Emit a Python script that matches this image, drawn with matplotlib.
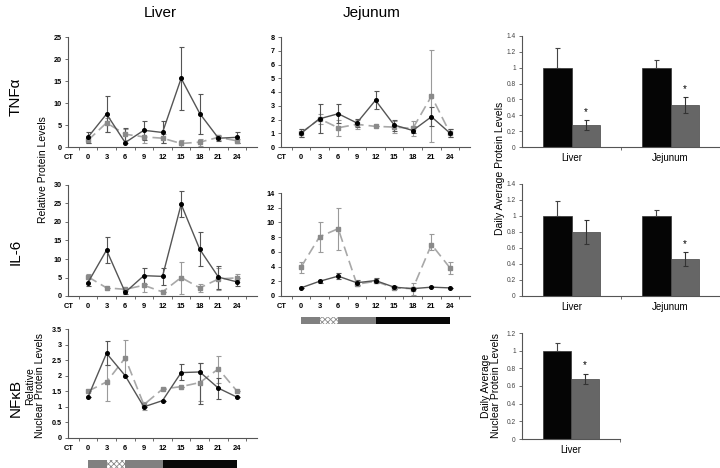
import matplotlib
matplotlib.use("Agg")
import matplotlib.pyplot as plt
import numpy as np

plt.rcParams['font.family'] = ['Liberation Sans', 'DejaVu Sans']
plt.rcParams['hatch.linewidth'] = 0.6

# Data
ct = [0, 3, 6, 9, 12, 15, 18, 21, 24]
ct_labels = ['CT', '0', '3', '6', '9', '12', '15', '18', '21', '24']

# TNFa liver
tnf_liv_solid = [2.2, 7.5, 1.0, 3.8, 3.3, 15.6, 7.6, 2.0, 2.2]
tnf_liv_solid_hi = [3.4, 11.5, 4.3, 6.0, 5.8, 22.8, 12.0, 2.6, 3.4]
tnf_liv_solid_lo = [1.0, 3.5, 0.8, 1.5, 0.8, 8.3, 2.9, 1.4, 1.0]
tnf_liv_dash = [1.5, 5.5, 2.9, 2.3, 2.0, 0.8, 1.1, 2.2, 1.4]
tnf_liv_dash_hi = [2.2, 6.5, 4.2, 3.8, 3.0, 1.6, 1.9, 2.7, 1.9]
tnf_liv_dash_lo = [0.8, 3.5, 1.6, 0.8, 1.0, 0.0, 0.3, 1.7, 0.9]

# TNFa jejunum
tnf_jej_solid = [1.0, 2.05, 2.42, 1.75, 3.4, 1.6, 1.2, 2.2, 1.0]
tnf_jej_solid_hi = [1.3, 3.1, 3.1, 2.05, 4.1, 2.0, 1.5, 2.9, 1.3]
tnf_jej_solid_lo = [0.7, 1.0, 1.75, 1.45, 2.75, 1.2, 1.0, 1.5, 0.7]
tnf_jej_dash = [1.0, 2.05, 1.4, 1.65, 1.5, 1.45, 1.35, 3.7, 1.0]
tnf_jej_dash_hi = [1.3, 2.4, 2.0, 2.0, 1.5, 1.9, 1.9, 7.05, 1.3]
tnf_jej_dash_lo = [0.7, 1.7, 0.8, 1.3, 1.5, 1.0, 0.8, 0.35, 0.7]

# IL-6 liver
il6_liv_solid = [3.6, 12.4, 1.0, 5.5, 5.3, 24.8, 12.6, 5.1, 3.8]
il6_liv_solid_hi = [5.0, 16.0, 1.8, 7.6, 7.5, 28.5, 17.2, 8.0, 5.0]
il6_liv_solid_lo = [2.6, 8.8, 0.6, 3.2, 3.0, 21.4, 8.2, 2.0, 2.6]
il6_liv_dash = [5.2, 2.2, 1.8, 2.9, 1.1, 5.0, 2.2, 4.6, 4.9]
il6_liv_dash_hi = [6.0, 2.2, 2.2, 5.5, 1.1, 9.2, 3.2, 7.5, 6.0]
il6_liv_dash_lo = [4.5, 2.2, 1.4, 1.0, 1.1, 0.5, 1.2, 1.5, 3.8]

# IL-6 jejunum
il6_jej_solid = [1.1, 2.0, 2.7, 1.8, 2.1, 1.2, 1.0, 1.2, 1.1]
il6_jej_solid_hi = [1.1, 2.2, 3.1, 2.2, 2.5, 1.4, 1.0, 1.2, 1.1]
il6_jej_solid_lo = [1.1, 1.8, 2.3, 1.5, 1.7, 1.0, 1.0, 1.2, 1.1]
il6_jej_dash = [3.9, 8.05, 9.15, 1.6, 2.0, 1.1, 1.0, 7.0, 3.8]
il6_jej_dash_hi = [4.6, 10.0, 11.9, 2.0, 2.0, 1.1, 1.8, 8.4, 4.6]
il6_jej_dash_lo = [3.1, 6.0, 6.3, 1.3, 2.0, 1.1, 0.2, 6.2, 3.0]

# NFkB liver
nfk_liv_solid = [1.31, 2.72, 2.0, 1.0, 1.2, 2.1, 2.12, 1.6, 1.31]
nfk_liv_solid_hi = [1.31, 3.13, 2.0, 1.0, 1.2, 2.37, 2.42, 1.94, 1.31]
nfk_liv_solid_lo = [1.31, 2.35, 2.0, 1.0, 1.2, 1.85, 1.1, 1.25, 1.31]
nfk_liv_dash = [1.5, 1.8, 2.57, 1.07, 1.57, 1.65, 1.78, 2.22, 1.5]
nfk_liv_dash_hi = [1.5, 2.35, 3.15, 1.15, 1.57, 1.65, 2.4, 2.62, 1.5]
nfk_liv_dash_lo = [1.5, 1.2, 2.0, 0.9, 1.57, 1.65, 1.2, 1.78, 1.5]

# daily averages
avg_tissues = ['Liver', 'Jejunum']
tnf_avg_ctrl = [1.0, 1.0]
tnf_avg_ctrl_err = [0.25, 0.1]
tnf_avg_trt = [0.28, 0.53]
tnf_avg_trt_err = [0.06, 0.1]
tnf_avg_sig = [True, True]
il6_avg_ctrl = [1.0, 1.0]
il6_avg_ctrl_err = [0.19, 0.08]
il6_avg_trt = [0.8, 0.46]
il6_avg_trt_err = [0.15, 0.09]
il6_avg_sig = [False, True]
nfk_avg_tissues = ['Liver']
nfk_avg_ctrl = [1.0]
nfk_avg_ctrl_err = [0.09]
nfk_avg_trt = [0.68]
nfk_avg_trt_err = [0.06]
nfk_avg_sig = [True]

# light/dark schedule (start, end, kind)
ld_blocks = [(0, 12, 'light'), (12, 24, 'dark')]
ld_feed = (3, 6)

W, H = 720, 468
fig = plt.figure(figsize=(7.2, 4.68), dpi=100)


def rect(l, t, r, b):
    return [l / W, 1 - b / H, (r - l) / W, (b - t) / H]


def style_axes(ax, bold=True, size=5.2):
    for s in ['top', 'right']:
        ax.spines[s].set_visible(False)
    for s in ['left', 'bottom']:
        ax.spines[s].set_color('#555555')
        ax.spines[s].set_linewidth(0.8)
    ax.tick_params(axis='y', length=2.5, width=0.6, color='#555555', labelsize=size, pad=2)
    for lab in ax.get_yticklabels():
        lab.set_fontweight('bold' if bold else 'normal')


def line_panel(box, s, s_hi, s_lo, d, d_hi, d_lo, ymax, ystep):
    ax = fig.add_axes(rect(*box))
    x = np.array(ct)
    ax.errorbar(x, d, yerr=[np.array(d) - np.array(d_lo), np.array(d_hi) - np.array(d)],
                fmt='none', ecolor='#9a9a9a', elinewidth=0.8, capsize=1.8, capthick=0.8)
    ax.errorbar(x, s, yerr=[np.array(s) - np.array(s_lo), np.array(s_hi) - np.array(s)],
                fmt='none', ecolor='#555555', elinewidth=0.8, capsize=1.8, capthick=0.8)
    ax.plot(x, d, color='#a8a8a8', lw=1.2, dashes=(6, 3), marker='s', ms=2.2,
            mfc='#8a8a8a', mec='#8a8a8a')
    ax.plot(x, s, color='#555555', lw=1.0, marker='o', ms=2.6, mfc='black', mec='black')
    ax.set_xlim(-3.2, 27.2)
    ax.set_ylim(0, ymax)
    ax.set_yticks(np.arange(0, ymax + ystep / 2, ystep))
    ax.yaxis.set_major_formatter(plt.FuncFormatter(lambda v, p: '%g' % v))
    ax.set_xticks([-3] + ct)
    ax.set_xticklabels(ct_labels, fontsize=5.4, fontweight='bold')
    ax.set_xticks(np.arange(-1.5, 27, 3), minor=True)
    ax.tick_params(axis='x', which='major', length=0, pad=5)
    ax.tick_params(axis='x', which='minor', length=2.5, width=0.6, color='#555555')
    style_axes(ax)
    return ax


def bar_panel(box, tissues, ctrl, ctrl_err, trt, trt_err, sig, ymax, ystep):
    ax = fig.add_axes(rect(*box))
    pos = np.arange(len(tissues))
    w = 0.29
    ax.bar(pos - w / 2, ctrl, w, color='#050505', edgecolor='#333333', lw=0.5)
    ax.bar(pos + w / 2, trt, w, color='#666666', edgecolor='#444444', lw=0.5)
    ax.errorbar(pos - w / 2, ctrl, yerr=[np.zeros(len(ctrl)), ctrl_err], fmt='none',
                ecolor='#444444', elinewidth=0.8, capsize=1.8, capthick=0.8)
    ax.errorbar(pos + w / 2, trt, yerr=trt_err, fmt='none',
                ecolor='#333333', elinewidth=0.8, capsize=1.8, capthick=0.8)
    for p, v, e, sg in zip(pos, trt, trt_err, sig):
        if sg:
            ax.text(p + w / 2, v + e + 0.04, '*', ha='center', va='bottom', fontsize=7)
    ax.set_xlim(-0.5, len(tissues) - 0.5)
    ax.set_ylim(0, ymax)
    ax.set_yticks(np.arange(0, ymax + ystep / 2, ystep))
    ax.yaxis.set_major_formatter(plt.FuncFormatter(lambda v, p: '%g' % round(v, 2)))
    ax.set_xticks(pos)
    ax.set_xticklabels(tissues, fontsize=7)
    ax.set_xticks(np.arange(0.5, len(tissues), 1), minor=True)
    ax.tick_params(axis='x', which='major', length=0, pad=4)
    ax.tick_params(axis='x', which='minor', length=2.5, width=0.6, color='#555555')
    style_axes(ax, bold=False, size=4.8)
    ax.tick_params(axis='y', labelcolor='#444444')
    return ax


def ld_bar(box):
    ax = fig.add_axes(rect(*box))
    for start, end, kind in ld_blocks:
        ax.barh(0, end - start, left=start, height=1,
                color='#808080' if kind == 'light' else '#080808', edgecolor='none')
    ax.barh(0, ld_feed[1] - ld_feed[0], left=ld_feed[0], height=1, color='white',
            edgecolor='#8a8a8a', hatch='xxxxxx', lw=0)
    ax.set_xlim(-3.2, 27.2)
    ax.set_ylim(-0.5, 0.5)
    ax.axis('off')


line_panel((68, 37, 257, 147), tnf_liv_solid, tnf_liv_solid_hi, tnf_liv_solid_lo,
           tnf_liv_dash, tnf_liv_dash_hi, tnf_liv_dash_lo, 25, 5)
line_panel((281, 37, 470, 147), tnf_jej_solid, tnf_jej_solid_hi, tnf_jej_solid_lo,
           tnf_jej_dash, tnf_jej_dash_hi, tnf_jej_dash_lo, 8, 1)
line_panel((68, 185, 257, 296), il6_liv_solid, il6_liv_solid_hi, il6_liv_solid_lo,
           il6_liv_dash, il6_liv_dash_hi, il6_liv_dash_lo, 30, 5)
line_panel((281, 193, 470, 296), il6_jej_solid, il6_jej_solid_hi, il6_jej_solid_lo,
           il6_jej_dash, il6_jej_dash_hi, il6_jej_dash_lo, 14, 2)
line_panel((68, 329, 257, 438), nfk_liv_solid, nfk_liv_solid_hi, nfk_liv_solid_lo,
           nfk_liv_dash, nfk_liv_dash_hi, nfk_liv_dash_lo, 3.5, 0.5)

ld_bar((281, 317, 470, 324))
ld_bar((68, 460, 257, 468))

bar_panel((522, 36, 720, 147), avg_tissues, tnf_avg_ctrl, tnf_avg_ctrl_err,
          tnf_avg_trt, tnf_avg_trt_err, tnf_avg_sig, 1.4, 0.2)
bar_panel((522, 184, 720, 296), avg_tissues, il6_avg_ctrl, il6_avg_ctrl_err,
          il6_avg_trt, il6_avg_trt_err, il6_avg_sig, 1.4, 0.2)
bar_panel((522, 333, 620, 439), nfk_avg_tissues, nfk_avg_ctrl, nfk_avg_ctrl_err,
          nfk_avg_trt, nfk_avg_trt_err, nfk_avg_sig, 1.2, 0.2)

# text labels
fig.text(160 / W, 1 - 13 / H, 'Liver', ha='center', va='center', fontsize=11)
fig.text(372 / W, 1 - 13 / H, 'Jejunum', ha='center', va='center', fontsize=11)
fig.text(16 / W, 1 - 97 / H, 'TNFα', rotation=90, ha='center', va='center', fontsize=11)
fig.text(16 / W, 1 - 252 / H, 'IL-6', rotation=90, ha='center', va='center', fontsize=11)
fig.text(16 / W, 1 - 398 / H, 'NFκB', rotation=90, ha='center', va='center', fontsize=11)
fig.text(43 / W, 1 - 170 / H, 'Relative Protein Levels', rotation=90,
         ha='center', va='center', fontsize=7.5)
fig.text(35 / W, 1 - 386 / H, 'Relative\nNuclear Protein Levels', rotation=90,
         ha='center', va='center', fontsize=7.5, linespacing=0.95)
fig.text(500 / W, 1 - 168 / H, 'Daily Average Protein Levels', rotation=90,
         ha='center', va='center', fontsize=7.5)
fig.text(491 / W, 1 - 386 / H, 'Daily Average\nNuclear Protein Levels', rotation=90,
         ha='center', va='center', fontsize=7.5, linespacing=0.95)

fig.savefig('out.png', dpi=100)
